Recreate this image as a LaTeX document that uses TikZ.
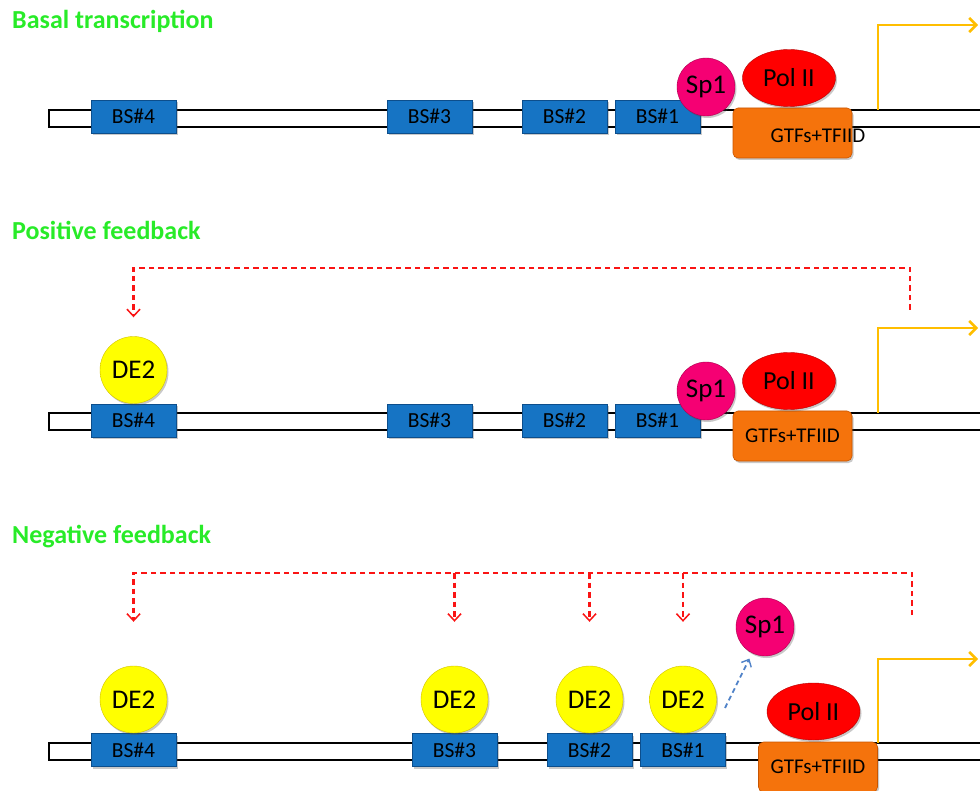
\documentclass[tikz,border=0pt]{standalone}
\usepackage{fontspec}
\setmainfont{Carlito}
\usetikzlibrary{shapes.geometric,arrows.meta,shadows}

\definecolor{titlegreen}{RGB}{40,235,40}
\definecolor{bsblue}{RGB}{22,116,196}
\definecolor{bsedge}{RGB}{12,78,140}
\definecolor{de2fill}{RGB}{255,255,0}
\definecolor{de2rim}{RGB}{210,195,0}
\definecolor{sp1fill}{RGB}{245,0,115}
\definecolor{sp1rim}{RGB}{170,0,78}
\definecolor{polfill}{RGB}{255,0,0}
\definecolor{polrim}{RGB}{180,0,0}
\definecolor{gtffill}{RGB}{245,115,12}
\definecolor{gtfrim}{RGB}{200,85,0}
\definecolor{tssyellow}{RGB}{255,190,0}
\definecolor{fbred}{RGB}{250,20,20}
\definecolor{relblue}{RGB}{80,130,200}

% soft rim shadings for the round factors
\pgfdeclareradialshading{de2shade}{\pgfpoint{0bp}{0bp}}{color(0bp)=(de2fill); color(36bp)=(de2fill); color(50bp)=(de2rim)}
\pgfdeclareradialshading{sp1shade}{\pgfpoint{0bp}{0bp}}{color(0bp)=(sp1fill); color(36bp)=(sp1fill); color(50bp)=(sp1rim)}
\pgfdeclareradialshading{polshade}{\pgfpoint{0bp}{0bp}}{color(0bp)=(polfill); color(36bp)=(polfill); color(50bp)=(polrim)}

\begin{document}
\begin{tikzpicture}[x=1pt,y=-1pt,
  softshadow/.style={drop shadow={shadow xshift=1.5pt,shadow yshift=-2pt,opacity=0.3,fill=black!70}},
  title/.style={anchor=base west,inner sep=0pt,text=titlegreen,font=\bfseries\fontsize{26}{30}\selectfont},
  dna/.style={draw=black,line width=2.4pt,fill=white},
  bsbox/.style={rectangle,draw=bsedge,line width=0.8pt,fill=bsblue,minimum width=85pt,minimum height=33pt,inner sep=0pt,font=\fontsize{21.5}{24}\selectfont,softshadow},
  de2/.style={circle,minimum size=67pt,inner sep=0pt,shading=de2shade,draw=de2rim,line width=0.4pt,font=\fontsize{27}{30}\selectfont,softshadow},
  sp1/.style={circle,minimum size=58pt,inner sep=0pt,shading=sp1shade,draw=sp1rim,line width=0.4pt,font=\fontsize{27}{30}\selectfont,softshadow},
  polii/.style={ellipse,minimum width=93pt,minimum height=57pt,inner sep=0pt,shading=polshade,draw=polrim,line width=0.4pt,font=\fontsize{26}{30}\selectfont,softshadow},
  gtfbox/.style={rectangle,rounded corners=5pt,minimum width=119pt,minimum height=50pt,inner sep=0pt,fill=gtffill,draw=gtfrim,line width=0.6pt,font=\fontsize{21}{24}\selectfont,softshadow},
  gtftext/.style={inner sep=0pt,font=\fontsize{21}{24}\selectfont},
  tss/.style={draw=tssyellow,line width=2.6pt,-{Straight Barb[length=7pt,width=14pt]}},
  feedback/.style={draw=fbred,line width=2.2pt,dash pattern=on 5.5pt off 4pt,-{Straight Barb[length=7pt,width=13pt,line width=1.5pt]}},
  release/.style={draw=relblue,line width=1.8pt,dash pattern=on 5pt off 3.5pt,-{Straight Barb[length=6pt,width=11pt,line width=1.4pt]},shorten >=6pt}
]
\useasboundingbox (0,0) rectangle (980,791);

% ---------------- Basal transcription ----------------
\node[title] (title1) at (12,29) {Basal transcription};
\draw[dna] (49,110) rectangle (995,127);
\node[bsbox] (bs4a) at (133.5,116.5) {BS\#4};
\node[bsbox] (bs3a) at (429.5,116.5) {BS\#3};
\node[bsbox] (bs2a) at (564.5,116.5) {BS\#2};
\node[bsbox] (bs1a) at (657.5,116.5) {BS\#1};
\node[gtfbox] (gtfa) at (792.5,133) {};
\node[gtftext] (gtfatext) at (818,136) {GTFs+TFIID};
\node[polii] (pola) at (789,78) {Pol II};
\node[sp1] (sp1a) at (706,87) {Sp1};
\coordinate (tssa) at (878,110);
\coordinate (mrnaa) at (978,25);
\draw[tss] (tssa) |- (mrnaa);

% ---------------- Positive feedback ----------------
\node[title] (title2) at (12,240) {Positive feedback};
\draw[dna] (49,413) rectangle (995,430);
\node[bsbox] (bs4b) at (133.5,420.5) {BS\#4};
\node[bsbox] (bs3b) at (429.5,420.5) {BS\#3};
\node[bsbox] (bs2b) at (564.5,420.5) {BS\#2};
\node[bsbox] (bs1b) at (657.5,420.5) {BS\#1};
\node[gtfbox] (gtfb) at (792.5,436) {GTFs+TFIID};
\node[polii] (polb) at (789,381) {Pol II};
\node[sp1] (sp1b) at (706,391) {Sp1};
\node[de2] (de2b4) at (133.5,370) {DE2};
\coordinate (tssb) at (878,413);
\coordinate (mrnab) at (978,328);
\draw[tss] (tssb) |- (mrnab);
\coordinate (fbbstart) at (910,310);
\coordinate (fbbtop) at (910,268);
\draw[feedback,shorten >=19pt] (fbbstart) -- (fbbtop) -| (de2b4);

% ---------------- Negative feedback ----------------
\node[title] (title3) at (12,543) {Negative feedback};
\draw[dna] (49,743) rectangle (995,760);
\node[bsbox] (bs4c) at (133.5,750) {BS\#4};
\node[bsbox] (bs3c) at (454.5,750) {BS\#3};
\node[bsbox] (bs2c) at (589.5,750) {BS\#2};
\node[bsbox] (bs1c) at (683,750) {BS\#1};
\node[gtfbox] (gtfc) at (818,767) {GTFs+TFIID};
\node[polii] (polc) at (813.5,711.5) {Pol II};
\node[de2] (de2c4) at (133.5,699.5) {DE2};
\node[de2] (de2c3) at (454.5,699.5) {DE2};
\node[de2] (de2c2) at (589.5,699.5) {DE2};
\node[de2] (de2c1) at (683,699.5) {DE2};
\node[sp1] (sp1c) at (765,627) {Sp1};
\coordinate (tssc) at (878,743);
\coordinate (mrnac) at (978,659);
\draw[tss] (tssc) |- (mrnac);
\coordinate (fbcstart) at (912,615);
\coordinate (fbctop) at (912,573);
\draw[feedback,shorten >=44pt] (fbcstart) -- (fbctop) -| (de2c4);
\coordinate (fbc3) at (de2c3 |- fbctop);
\coordinate (fbc2) at (de2c2 |- fbctop);
\coordinate (fbc1) at (de2c1 |- fbctop);
\draw[feedback,shorten >=44pt] (fbc3) -- (de2c3);
\draw[feedback,shorten >=44pt] (fbc2) -- (de2c2);
\draw[feedback,shorten >=44pt] (fbc1) -- (de2c1);
\coordinate (relstart) at (725,708);
\draw[release] (relstart) -- (sp1c);
\end{tikzpicture}
\end{document}
